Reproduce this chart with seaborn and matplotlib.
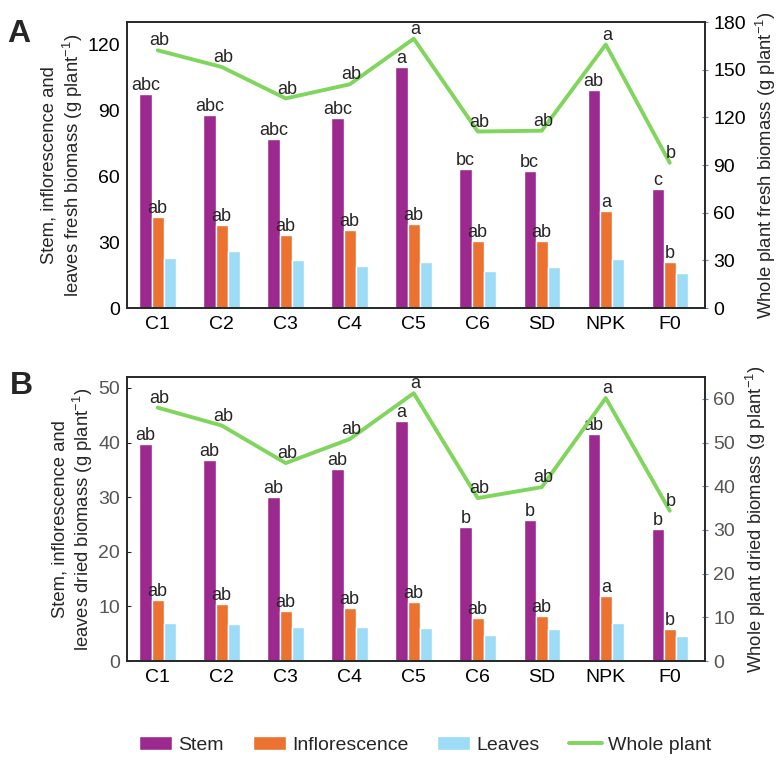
import matplotlib
matplotlib.use("Agg")
import matplotlib.pyplot as plt
import numpy as np
import pandas as pd
import seaborn as sns

# data
treatments = ["C1", "C2", "C3", "C4", "C5", "C6", "SD", "NPK", "F0"]
parts = ["Stem", "Inflorescence", "Leaves"]

fresh_stem = [97.2, 87.8, 76.7, 86.3, 109.4, 63.0, 62.4, 99.0, 54.2]
fresh_inflo = [41.5, 37.8, 33.3, 35.4, 38.4, 30.5, 30.5, 44.2, 21.0]
fresh_leaves = [22.6, 25.8, 21.6, 19.0, 21.1, 17.0, 18.5, 22.2, 15.8]
fresh_whole = [162.2, 151.7, 131.9, 140.8, 169.5, 111.1, 111.6, 165.8, 91.4]

dried_stem = [39.8, 36.8, 30.1, 35.1, 44.0, 24.5, 25.8, 41.5, 24.1]
dried_inflo = [11.1, 10.5, 9.1, 9.7, 10.8, 7.8, 8.2, 11.9, 5.8]
dried_leaves = [6.9, 6.7, 6.3, 6.3, 6.1, 4.8, 5.8, 6.9, 4.6]
dried_whole = [58.0, 53.9, 45.3, 50.8, 61.3, 37.3, 39.8, 60.2, 34.4]

fresh_stem_let = ["abc", "abc", "abc", "abc", "a", "bc", "bc", "ab", "c"]
fresh_inflo_let = ["ab", "ab", "ab", "ab", "ab", "ab", "ab", "a", "b"]
fresh_whole_let = ["ab", "ab", "ab", "ab", "a", "ab", "ab", "a", "b"]

dried_stem_let = ["ab", "ab", "ab", "ab", "a", "b", "b", "ab", "b"]
dried_inflo_let = ["ab", "ab", "ab", "ab", "ab", "ab", "ab", "a", "b"]
dried_whole_let = ["ab", "ab", "ab", "ab", "a", "ab", "ab", "a", "b"]

palette = {"Stem": "#9c2a8e", "Inflorescence": "#ec7231", "Leaves": "#9cdcf6"}
line_color = "#80d65c"

sns.set_style("ticks")
plt.rcParams["font.family"] = ["Liberation Sans", "DejaVu Sans"]
plt.rcParams["mathtext.fontset"] = "custom"
plt.rcParams["mathtext.rm"] = "Liberation Sans"
plt.rcParams["mathtext.it"] = "Liberation Sans:italic"
plt.rcParams["axes.linewidth"] = 1.2


def long_frame(stem, inflo, leaves):
    return pd.DataFrame({
        "treatment": treatments * 3,
        "part": [p for p in parts for _ in treatments],
        "value": list(stem) + list(inflo) + list(leaves),
    })


def draw_panel(fig, rect, stem, inflo, leaves, whole, letters, ylims, labels,
               tick_color, left_ticks, yticks, yticks2):
    ax = fig.add_axes(rect)
    df = long_frame(stem, inflo, leaves)
    sns.barplot(data=df, x="treatment", y="value", hue="part", hue_order=parts,
                palette=palette, width=0.57, saturation=1, ax=ax,
                order=treatments, errorbar=None)
    handles, hlabels = ax.get_legend_handles_labels()
    ax.get_legend().remove()

    stem_let, inflo_let, whole_let = letters
    ax.bar_label(ax.containers[0], labels=stem_let, padding=0, fontsize=13)
    ax.bar_label(ax.containers[1], labels=inflo_let, padding=0, fontsize=13)

    ax.set_ylim(0, ylims[0])
    ax.set_yticks(yticks)
    ax.set_xlabel("")
    ax.set_ylabel(labels[0], fontsize=13.3, labelpad=2, linespacing=1.15)
    ax.tick_params(axis="x", length=0, labelsize=14, pad=6, labelcolor="black")
    ax.tick_params(axis="y", labelsize=14, labelcolor=tick_color,
                   length=left_ticks, direction="in", pad=5)

    ax2 = ax.twinx()
    x = np.arange(len(treatments))
    sns.lineplot(x=x, y=whole, color=line_color, lw=2.8, ax=ax2,
                 label="Whole plant")
    lh, ll = ax2.get_legend_handles_labels()
    ax2.get_legend().remove()
    for xi, yi, t in zip(x, whole, whole_let):
        ax2.annotate(t, (xi, yi), xytext=(1, 3.5), textcoords="offset points",
                     ha="center", va="baseline", fontsize=13)
    ax2.set_ylim(0, ylims[1])
    ax2.set_yticks(yticks2)
    ax2.set_ylabel(labels[1], fontsize=13.3, labelpad=6)
    ax2.tick_params(axis="y", labelsize=14, labelcolor=tick_color, length=4,
                    direction="inout", color="#5b8fb9", pad=4)
    ax.set_xlim(-0.48, 8.55)
    return handles + lh, hlabels + ll


fig = plt.figure(figsize=(7.8, 7.62), dpi=100)

handles, hlabels = draw_panel(
    fig, [0.1628, 0.5958, 0.741, 0.3753],
    fresh_stem, fresh_inflo, fresh_leaves, fresh_whole,
    (fresh_stem_let, fresh_inflo_let, fresh_whole_let),
    (130, 180),
    ("Stem, inflorescence and\nleaves fresh biomass (g plant$^{-1}$)",
     "Whole plant fresh biomass (g plant$^{-1}$)"),
    "black", 0, [0, 30, 60, 90, 120], [0, 30, 60, 90, 120, 150, 180])

draw_panel(
    fig, [0.1628, 0.1325, 0.741, 0.3727],
    dried_stem, dried_inflo, dried_leaves, dried_whole,
    (dried_stem_let, dried_inflo_let, dried_whole_let),
    (52, 65),
    ("Stem, inflorescence and\nleaves dried biomass (g plant$^{-1}$)",
     "Whole plant dried biomass (g plant$^{-1}$)"),
    "#555555", 3, [0, 10, 20, 30, 40, 50], [0, 10, 20, 30, 40, 50, 60])

fig.text(0.024, 0.956, "A", fontsize=23, fontweight="bold", va="center", ha="center")
fig.text(0.028, 0.493, "B", fontsize=23, fontweight="bold", va="center", ha="center")

fig.legend(handles, hlabels, loc="center", bbox_to_anchor=(0.545, 0.022),
           ncol=4, frameon=False, fontsize=14, handlelength=1.7,
           handletextpad=0.3, columnspacing=1.5)

fig.savefig("out.png", dpi=100)
